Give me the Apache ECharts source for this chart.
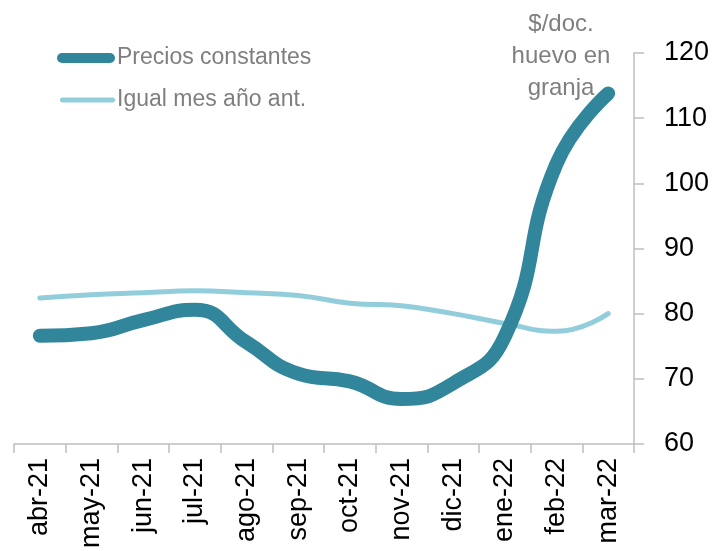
<!DOCTYPE html>
<html>
<head>
<meta charset="utf-8">
<script src="https://cdn.jsdelivr.net/npm/echarts@6/dist/echarts.min.js"></script>
<style>
  html, body { margin: 0; padding: 0; background: #ffffff; }
  #chart { width: 718px; height: 551px; }
</style>
</head>
<body>
<div id="chart"></div>
<script>
// Monthly farm price of eggs ($ per dozen)
const months = ['abr-21', 'may-21', 'jun-21', 'jul-21', 'ago-21', 'sep-21',
                'oct-21', 'nov-21', 'dic-21', 'ene-22', 'feb-22', 'mar-22'];
const preciosConstantes = [76.6, 77.0, 79.0, 80.6, 75.6, 70.8, 69.6, 66.9, 69.3, 76.5, 103.0, 113.8];
const igualMesAnoAnt = [82.4, 82.9, 83.2, 83.5, 83.2, 82.8, 81.6, 81.2, 80.0, 78.5, 77.3, 80.0];
const yTicks = [60, 70, 80, 90, 100, 110, 120];

const DARK = '#31869b';
const LIGHT = '#92cddc';
const GREY_TEXT = '#7f7f7f';
const AXIS_GREY = '#bfbfbf';
const FONT = '"Liberation Sans", Arial, sans-serif';

const chart = echarts.init(document.getElementById('chart'), null, { renderer: 'canvas' });

// pill-shaped legend marker of the given size
const capsule = (w, h) => {
  const r = h / 2;
  return 'path://M' + r + ',0 H' + (w - r) + ' A' + r + ',' + r + ' 0 0 1 ' + (w - r) + ',' + h +
         ' H' + r + ' A' + r + ',' + r + ' 0 0 1 ' + r + ',0 Z';
};

chart.setOption({
  animation: false,
  backgroundColor: '#ffffff',
  grid: { left: 14, right: 84, top: 53, bottom: 105, containLabel: false },
  legend: [
    {
      data: ['Precios constantes'],
      left: 57, top: 44, padding: 0,
      itemWidth: 58, itemHeight: 10,
      icon: capsule(58, 10),
      symbolKeepAspect: false,
      itemStyle: { color: DARK, borderWidth: 0 },
      lineStyle: { width: 0 },
      textStyle: { fontFamily: FONT, fontSize: 23, color: GREY_TEXT, lineHeight: 28, padding: [0, 0, 0, -3] }
    },
    {
      data: ['Igual mes año ant.'],
      left: 60, top: 86, padding: 0,
      itemWidth: 55, itemHeight: 5,
      icon: capsule(55, 5),
      symbolKeepAspect: false,
      itemStyle: { color: LIGHT, borderWidth: 0 },
      lineStyle: { width: 0 },
      textStyle: { fontFamily: FONT, fontSize: 23, color: GREY_TEXT, lineHeight: 28, padding: [0, 0, 0, -3] }
    }
  ],
  graphic: [
    {
      type: 'text',
      x: 561, y: 8,
      style: {
        text: '$/doc.\nhuevo en\ngranja',
        textAlign: 'center',
        fontFamily: FONT,
        fontSize: 24,
        lineHeight: 32,
        fill: GREY_TEXT
      }
    }
  ],
  xAxis: {
    type: 'category',
    data: months,
    boundaryGap: true,
    axisLine: { show: true, lineStyle: { color: AXIS_GREY, width: 1.5 } },
    axisTick: { show: true, interval: 0, length: 9, lineStyle: { color: AXIS_GREY, width: 1.5 } },
    axisLabel: {
      interval: 0, rotate: 90, margin: 14,
      fontFamily: FONT, fontSize: 27, color: '#000000'
    },
    splitLine: { show: false }
  },
  yAxis: {
    type: 'value',
    position: 'right',
    min: yTicks[0], max: yTicks[yTicks.length - 1], interval: 10,
    axisLine: { show: true, lineStyle: { color: AXIS_GREY, width: 1.5 } },
    axisTick: { show: true, length: 10, lineStyle: { color: AXIS_GREY, width: 1.5 } },
    axisLabel: { margin: 30, fontFamily: FONT, fontSize: 27, color: '#000000' },
    splitLine: { show: false }
  },
  series: [
    {
      name: 'Igual mes año ant.',
      type: 'line',
      data: igualMesAnoAnt,
      smooth: 0.5,
      showSymbol: false,
      symbol: 'none',
      color: LIGHT,
      lineStyle: { color: LIGHT, width: 5, cap: 'round', join: 'round' },
      z: 2
    },
    {
      name: 'Precios constantes',
      type: 'line',
      data: preciosConstantes,
      smooth: 0.5,
      showSymbol: false,
      symbol: 'none',
      color: DARK,
      lineStyle: { color: DARK, width: 14, cap: 'round', join: 'round' },
      z: 3
    }
  ]
});
</script>
</body>
</html>
